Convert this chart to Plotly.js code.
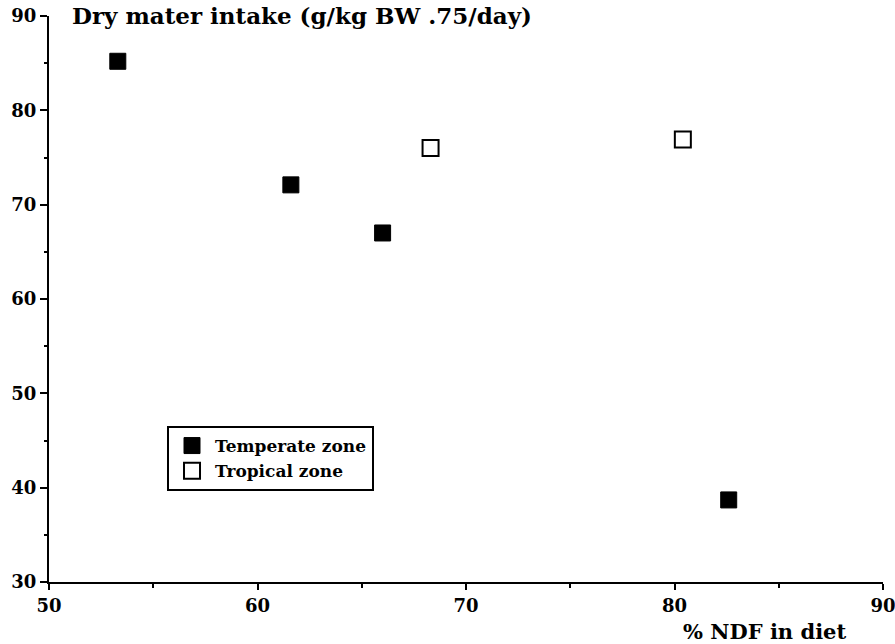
<!DOCTYPE html>
<html>
<head>
<meta charset="utf-8">
<script src="https://cdn.plot.ly/plotly-3.0.1.min.js"></script>
<style>html,body{margin:0;padding:0;background:#fff;}#chart{width:895px;height:644px;}</style>
</head>
<body>
<div id="chart"></div>
<script>
const temperateNDF = [53.3, 61.6, 66.0, 82.6];
const temperateDMI = [85.2, 72.1, 67.0, 38.7];
const tropicalNDF = [68.3, 80.4];
const tropicalDMI = [76.0, 76.9];
const seriesNames = ["Temperate zone", "Tropical zone"];
const chartTitle = "Dry mater intake (g/kg BW .75/day)";
const xTitle = "% NDF in diet";

const serif = "DejaVu Serif, Liberation Serif, serif";

const traces = [
  {
    x: temperateNDF, y: temperateDMI, mode: "markers", type: "scatter",
    name: seriesNames[0],
    marker: {symbol: "square", size: 16, color: "#000", line: {color: "#000", width: 1}}
  },
  {
    x: tropicalNDF, y: tropicalDMI, mode: "markers", type: "scatter",
    name: seriesNames[1],
    marker: {symbol: "square-open", size: 16, color: "#000", line: {color: "#000", width: 2}}
  }
];

const layout = {
  width: 895, height: 644,
  margin: {l: 49, r: 12, t: 16, b: 62},
  paper_bgcolor: "#fff", plot_bgcolor: "#fff",
  showlegend: true,
  font: {family: serif, color: "#000"},
  xaxis: {
    range: [50, 90], dtick: 10, tick0: 50,
    showgrid: false, zeroline: false,
    showline: true, linecolor: "#000", linewidth: 2,
    ticks: "outside", ticklen: 6, tickwidth: 2, tickcolor: "#000",
    minor: {dtick: 5, ticks: "outside", ticklen: 4, tickwidth: 2, tickcolor: "#000", showgrid: false},
    ticklabeloverflow: "allow",
    tickfont: {family: serif, size: 18, weight: "bold", color: "#000"}
  },
  yaxis: {
    range: [30, 90], dtick: 10, tick0: 30,
    showgrid: false, zeroline: false,
    showline: true, linecolor: "#000", linewidth: 2,
    ticks: "outside", ticklen: 7, tickwidth: 2, tickcolor: "#000",
    minor: {dtick: 5, ticks: "outside", ticklen: 3, tickwidth: 2, tickcolor: "#000", showgrid: false},
    ticklabeloverflow: "allow",
    tickfont: {family: serif, size: 18, weight: "bold", color: "#000"}
  },
  legend: {
    x: 0.1415, y: 0.2756, xanchor: "left", yanchor: "top",
    bgcolor: "#fff", bordercolor: "#000", borderwidth: 2,
    font: {family: serif, size: 17, weight: "bold", color: "#000"},
    itemwidth: 36, tracegroupgap: 0
  },
  annotations: [
    {
      text: chartTitle, xref: "paper", yref: "paper", x: 0.025, y: 1,
      xanchor: "left", yanchor: "middle", yshift: 1, showarrow: false,
      font: {family: serif, size: 23, weight: "bold", color: "#000"}
    },
    {
      text: xTitle, xref: "paper", yref: "paper", x: 0.958, y: 0,
      xanchor: "right", yanchor: "top", yshift: -35, showarrow: false,
      font: {family: serif, size: 21, weight: "bold", color: "#000"}
    }
  ]
};

Plotly.newPlot("chart", traces, layout, {displayModeBar: false, staticPlot: true});
</script>
</body>
</html>
